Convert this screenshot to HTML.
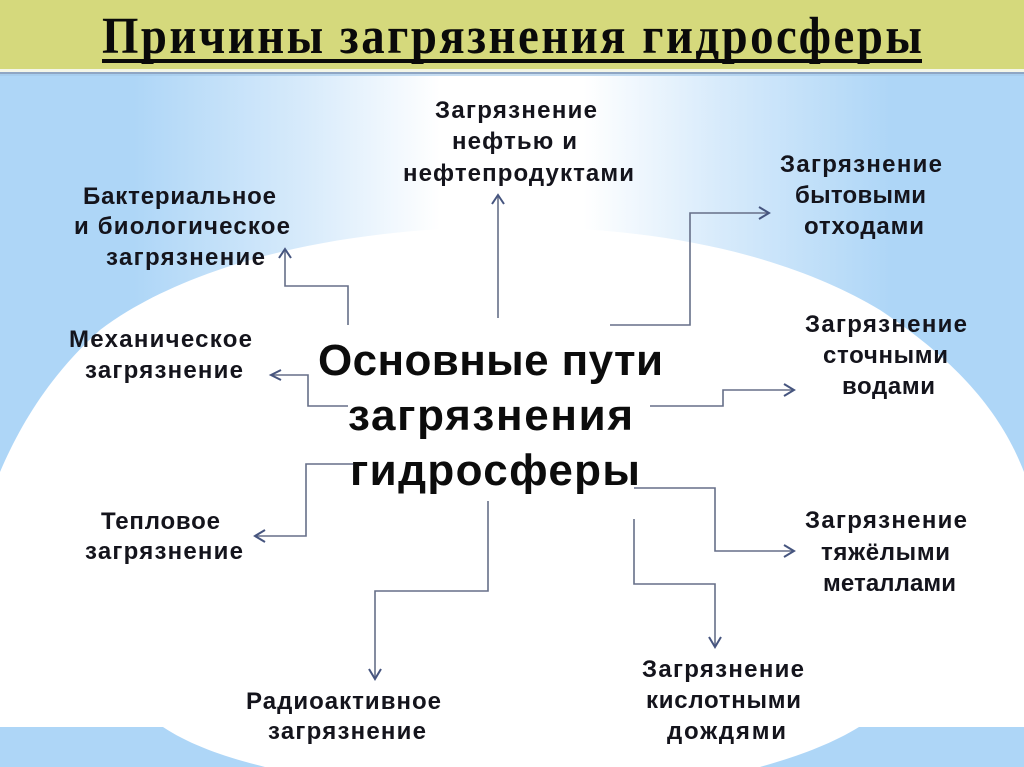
<!DOCTYPE html>
<html lang="ru"><head><meta charset="utf-8"><title>Причины загрязнения гидросферы</title>
<style>html,body{margin:0;padding:0;background:#fff}svg{display:block}
.l{font:bold 24px "Liberation Sans","DejaVu Sans",sans-serif;fill:#14141c}
.m{font:bold 44px "Liberation Sans","DejaVu Sans",sans-serif;fill:#0c0c0c}
.c{fill:none;stroke:#666f88;stroke-width:1.6}
.a{fill:none;stroke:#46557f;stroke-width:2}
</style></head><body>
<svg width="1024" height="767" viewBox="0 0 1024 767" xmlns="http://www.w3.org/2000/svg">
<defs><linearGradient id="g" x1="0" x2="1" y1="0" y2="0">
<stop offset="0" stop-color="#aed6f7"/><stop offset=".13" stop-color="#aed6f7"/><stop offset=".3" stop-color="#d8ebfb"/><stop offset=".43" stop-color="#ffffff"/><stop offset=".57" stop-color="#ffffff"/><stop offset=".7" stop-color="#d8ebfb"/><stop offset=".87" stop-color="#aed6f7"/><stop offset="1" stop-color="#aed6f7"/>
</linearGradient></defs>
<rect width="1024" height="767" fill="#fff"/>
<rect y="73" width="1024" height="400" fill="url(#g)"/>
<path d="M0 472 C20 425 50 375 100 330 C165 280 300 227 512 227 C680 227 800 262 880 310 C955 360 1000 410 1024 472 L1024 480 L0 480Z" fill="#fff"/>
<path d="M0 727 H163 C190 745 225 757 265 767 H0Z" fill="#aed6f7"/>
<path d="M1024 727 H859 C830 745 795 757 760 767 H1024Z" fill="#aed6f7"/>
<rect width="1024" height="69" fill="#d5d97c"/>
<rect y="69" width="1024" height="3" fill="#f4f6e8"/>
<rect y="72" width="1024" height="2" fill="#8fa6c4"/>
<rect y="74" width="1024" height="2" fill="#a0c6e8" opacity=".6"/>
<text transform="translate(102,53) scale(.9,1)" x="0" y="0" font-family="'Liberation Serif',serif" font-weight="bold" font-size="52" fill="#0a0a0a" textLength="911" lengthAdjust="spacing">Причины загрязнения гидросферы</text>
<rect x="102" y="59" width="820" height="4" fill="#0a0a0a"/>

<path class="c" d="M348 325V286H285V250"/><path class="a" d="M279 258L285 249L291 258"/>
<path class="c" d="M498 318V197"/><path class="a" d="M492 204L498 195L504 204"/>
<path class="c" d="M610 325H690V213H768"/><path class="a" d="M759 207L769 213L759 219"/>
<path class="c" d="M650 406H723V390H793"/><path class="a" d="M784 384L794 390L784 396"/>
<path class="c" d="M272 375H308V406H348"/><path class="a" d="M281 370L271 375L281 380"/>
<path class="c" d="M353 464H306V536H256"/><path class="a" d="M265 530L255 536L265 542"/>
<path class="c" d="M488 501V591H375V677"/><path class="a" d="M369 669L375 679L381 669"/>
<path class="c" d="M634 488H715V551H793"/><path class="a" d="M784 545L794 551L784 557"/>
<path class="c" d="M634 519V584H715V645"/><path class="a" d="M709 637L715 647L721 637"/>

<text class="m" x="318" y="375" textLength="345" lengthAdjust="spacing">Основные пути</text>
<text class="m" x="348" y="430" textLength="285" lengthAdjust="spacing">загрязнения</text>
<text class="m" x="350" y="485" textLength="290" lengthAdjust="spacing">гидросферы</text>

<text class="l" x="435" y="118" textLength="162" lengthAdjust="spacing">Загрязнение</text>
<text class="l" x="452" y="149" textLength="125" lengthAdjust="spacing">нефтью и</text>
<text class="l" x="403" y="181" textLength="231" lengthAdjust="spacing">нефтепродуктами</text>

<text class="l" x="83" y="204" textLength="193" lengthAdjust="spacing">Бактериальное</text>
<text class="l" x="74" y="234" textLength="216" lengthAdjust="spacing">и биологическое</text>
<text class="l" x="106" y="265" textLength="159" lengthAdjust="spacing">загрязнение</text>

<text class="l" x="69" y="347" textLength="183" lengthAdjust="spacing">Механическое</text>
<text class="l" x="85" y="378" textLength="158" lengthAdjust="spacing">загрязнение</text>

<text class="l" x="780" y="172" textLength="162" lengthAdjust="spacing">Загрязнение</text>
<text class="l" x="795" y="203" textLength="131" lengthAdjust="spacing">бытовыми</text>
<text class="l" x="804" y="234" textLength="120" lengthAdjust="spacing">отходами</text>

<text class="l" x="805" y="332" textLength="162" lengthAdjust="spacing">Загрязнение</text>
<text class="l" x="823" y="363" textLength="125" lengthAdjust="spacing">сточными</text>
<text class="l" x="842" y="394" textLength="93" lengthAdjust="spacing">водами</text>

<text class="l" x="805" y="528" textLength="162" lengthAdjust="spacing">Загрязнение</text>
<text class="l" x="821" y="560" textLength="129" lengthAdjust="spacing">тяжёлыми</text>
<text class="l" x="823" y="591" textLength="133" lengthAdjust="spacing">металлами</text>

<text class="l" x="642" y="677" textLength="162" lengthAdjust="spacing">Загрязнение</text>
<text class="l" x="646" y="708" textLength="155" lengthAdjust="spacing">кислотными</text>
<text class="l" x="667" y="739" textLength="119" lengthAdjust="spacing">дождями</text>

<text class="l" x="246" y="709" textLength="195" lengthAdjust="spacing">Радиоактивное</text>
<text class="l" x="268" y="739" textLength="158" lengthAdjust="spacing">загрязнение</text>

<text class="l" x="101" y="529" textLength="119" lengthAdjust="spacing">Тепловое</text>
<text class="l" x="85" y="559" textLength="158" lengthAdjust="spacing">загрязнение</text>
</svg>
</body></html>
